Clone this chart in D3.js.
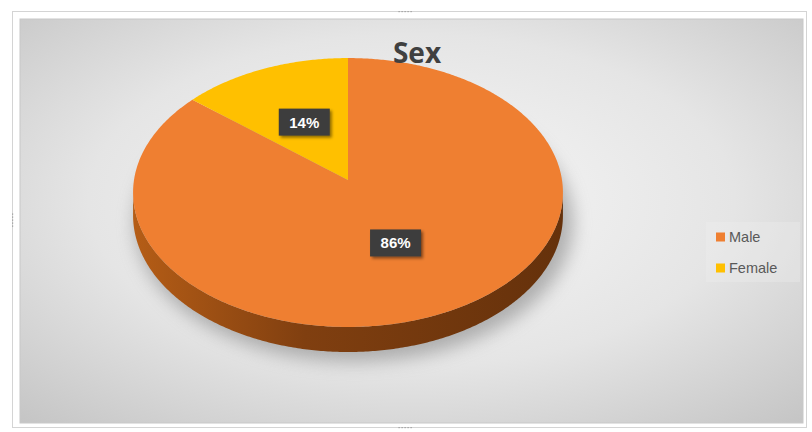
<!DOCTYPE html>
<html>
<head>
<meta charset="utf-8">
<script src="https://cdn.jsdelivr.net/npm/d3@7"></script>
<style>
  body { margin: 0; background: #fff; }
  svg { display: block; }
</style>
</head>
<body>
<svg width="812" height="432"></svg>
<script>
var categories = ["Male", "Female"];
var values = [86, 14];
var colors = ["#ef7f31", "#ffc000"];
var title = "Sex";

var svg = d3.select("svg"),
    width = +svg.attr("width"),
    height = +svg.attr("height");

var defs = svg.append("defs");

var bg = defs.append("radialGradient").attr("id", "bg")
    .attr("cx", "0.5").attr("cy", "0.45").attr("r", "0.75");
bg.append("stop").attr("offset", "0%").attr("stop-color", "#f7f7f7");
bg.append("stop").attr("offset", "55%").attr("stop-color", "#e5e5e5");
bg.append("stop").attr("offset", "100%").attr("stop-color", "#c4c4c4");

var side = defs.append("linearGradient").attr("id", "side")
    .attr("x1", "0").attr("x2", "1").attr("y1", "0").attr("y2", "0");
side.append("stop").attr("offset", "0%").attr("stop-color", "#b55d16");
side.append("stop").attr("offset", "40%").attr("stop-color", "#803f10");
side.append("stop").attr("offset", "100%").attr("stop-color", "#65310b");

defs.append("filter").attr("id", "blur")
    .attr("x", "-20%").attr("y", "-20%").attr("width", "140%").attr("height", "140%")
  .append("feGaussianBlur").attr("stdDeviation", 9);

var ds = defs.append("filter").attr("id", "drop")
    .attr("x", "-20%").attr("y", "-20%").attr("width", "150%").attr("height", "160%");
ds.append("feDropShadow").attr("dx", 2).attr("dy", 2).attr("stdDeviation", 1.5)
    .attr("flood-color", "#000").attr("flood-opacity", 0.45);

// frame
svg.append("rect").attr("x", 12.5).attr("y", 11.5).attr("width", 794).attr("height", 416)
    .attr("fill", "#fff").attr("stroke", "#d4d4d4");
svg.append("rect").attr("x", 20).attr("y", 19).attr("width", 783).attr("height", 404)
    .attr("fill", "url(#bg)").attr("stroke", "#c8c8c8");

// resize handles
[[405, 11.5, 1], [12.5, 220, 0], [405, 427.5, 1]].forEach(function(h) {
  for (var i = -2; i <= 2; i++) {
    svg.append("rect")
      .attr("x", h[0] + (h[2] ? i * 3 : 0) - 0.5)
      .attr("y", h[1] + (h[2] ? 0 : i * 3) - 0.5)
      .attr("width", 1.2).attr("height", 1.2).attr("fill", "#999");
  }
});

// 3d pie with a bit of perspective (far side smaller)
var vx = 348, vy = 180, A = 214, B = 133.3, e = 0.093, depth0 = 22.7;

function proj(a, r, down) {
  var u = r * Math.sin(a), v = -r * Math.cos(a);
  var s = 1 / (1 - e * v);
  return [vx + A * u * s, vy + B * v * s + (down ? depth0 * s : 0)];
}

function rim(a0, a1, down) {
  var n = Math.max(2, Math.ceil(Math.abs(a1 - a0) / 0.01));
  return d3.range(n + 1).map(function(i) {
    return proj(a0 + (a1 - a0) * i / n, 1, down);
  });
}

var pie = d3.pie().sort(null).value(function(d) { return d; });
var arcs = pie(values);
var line = d3.line();

// shadow
svg.append("ellipse").attr("cx", 354).attr("cy", 223)
    .attr("rx", 219).attr("ry", 139)
    .attr("fill", "#7d7d7d").attr("opacity", 0.55).attr("filter", "url(#blur)");

// side wall: front part of the rim between the left and right silhouettes
var full = rim(0, 2 * Math.PI, false);
var iR = d3.maxIndex(full, function(p) { return p[0]; }),
    iL = d3.minIndex(full, function(p) { return p[0]; });
var aR = 2 * Math.PI * iR / (full.length - 1),
    aL = 2 * Math.PI * iL / (full.length - 1);
var sidePts = rim(aR, aL, false).concat(rim(aL, aR, true));
svg.append("path")
    .attr("d", line(sidePts) + "Z")
    .attr("fill", "url(#side)");

// top face
svg.selectAll("path.slice")
  .data(arcs)
  .enter().append("path")
    .attr("class", "slice")
    .attr("fill", function(d, i) { return colors[i]; })
    .attr("d", function(d) {
      return line([[vx, vy]].concat(rim(d.startAngle, d.endAngle, false))) + "Z";
    });

// data labels
var labels = svg.selectAll("g.lbl")
  .data(arcs)
  .enter().append("g")
    .attr("class", "lbl")
    .attr("transform", function(d) {
      return "translate(" + proj((d.startAngle + d.endAngle) / 2, 0.5, false) + ")";
    });

labels.append("rect")
    .attr("x", -25.5).attr("y", -13.5).attr("width", 51).attr("height", 27)
    .attr("fill", "#3c3c3c").attr("filter", "url(#drop)");

labels.append("text")
    .attr("text-anchor", "middle").attr("dy", "0.36em")
    .attr("fill", "#fff")
    .style("font", "bold 15px 'Liberation Sans', Arial, sans-serif")
    .text(function(d) { return d3.format(".0%")(d.data / d3.sum(values)); });

// title
svg.append("text")
    .attr("x", 417).attr("y", 63)
    .attr("text-anchor", "middle")
    .attr("fill", "#404040")
    .style("font", "bold 28px 'Open Sans', sans-serif")
    .text(title);

// legend
svg.append("rect").attr("x", 706).attr("y", 222).attr("width", 94).attr("height", 60)
    .attr("fill", "#eeeeee").attr("opacity", 0.35);

var legend = svg.selectAll("g.leg")
  .data(categories)
  .enter().append("g")
    .attr("class", "leg")
    .attr("transform", function(d, i) { return "translate(716," + (237 + i * 31) + ")"; });

legend.append("rect")
    .attr("x", 0).attr("y", -4.5).attr("width", 9).attr("height", 9)
    .attr("fill", function(d, i) { return colors[i]; });

legend.append("text")
    .attr("x", 13).attr("dy", "0.35em")
    .attr("fill", "#595959")
    .style("font", "14.5px 'Liberation Sans', Arial, sans-serif")
    .text(function(d) { return d; });
</script>
</body>
</html>
